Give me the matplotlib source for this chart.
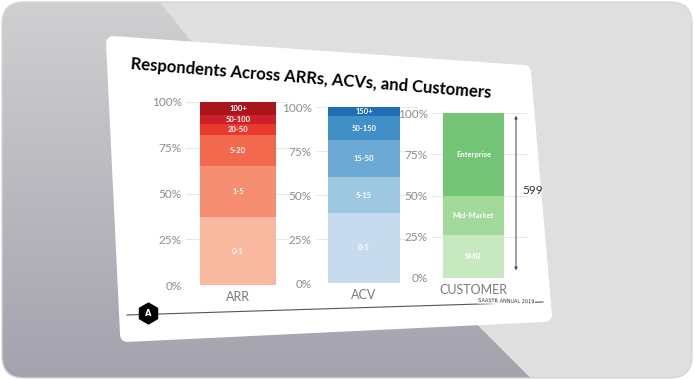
import matplotlib
matplotlib.use("Agg")
import matplotlib.pyplot as plt
import numpy as np
from matplotlib.patches import Polygon, FancyBboxPatch
from matplotlib.path import Path

W, H = 694, 380

# --- data -------------------------------------------------------------
title = "Respondents Across ARRs, ACVs, and Customers"
yticks = [0, 25, 50, 75, 100]
ytick_labels = ["0%", "25%", "50%", "75%", "100%"]

arr_labels = ["0-1", "1-5", "5-20", "20-50", "50-100", "100+"]
arr_values = [37, 28, 17, 6, 5, 7]
arr_colors = ["#f8b9a0", "#f68f72", "#f3694d", "#e93a30", "#cd2028", "#a9151d"]

acv_labels = ["0-5", "5-15", "15-50", "50-150", "150+"]
acv_values = [40, 20, 21, 14, 5]
acv_colors = ["#c6dcee", "#9ec7e1", "#6caad5", "#4090c7", "#1f6eb6"]

cust_labels = ["SMB", "Mid-Market", "Enterprise"]
cust_values = [26, 24, 50]
cust_colors = ["#c7e9c0", "#a1d99b", "#74c476"]

total_customers = 599
groups = ["ARR", "ACV", "CUSTOMER"]

# layout of each panel in pixels: axes left/right, bar left/right, top, bottom
panels = [
    (186, 289, 200, 276, 102, 285),
    (316, 418, 328, 400, 107, 283),
    (432, 528, 443, 504, 113, 278),
]

fig = plt.figure(figsize=(W / 100, H / 100), dpi=100)
fig.patch.set_facecolor("white")

# --- background (pixel coords) ----------------------------------------
bg = fig.add_axes([0, 0, 1, 1])
bg.set_xlim(0, W)
bg.set_ylim(H, 0)
bg.axis("off")

frame = FancyBboxPatch((2, 2), W - 4, H - 4, boxstyle="round,pad=0,rounding_size=22",
                       fc="none", ec="#d6d6d6", lw=1, zorder=2)
bg.add_patch(frame)

# light backdrop with a darker shadow falling to the lower left of the card
yy, xx = np.mgrid[0:H, 0:W]
light = np.array([0.875, 0.875, 0.875])
shade_top = np.array([0.815, 0.815, 0.82])
shade_bot = np.array([0.64, 0.635, 0.68])
shadow_pts = [(158, 0), (200, 52), (470, 318), (532, 380), (0, 380), (0, 0)]
inside = Path(shadow_pts).contains_points(np.c_[xx.ravel() + 0.5, yy.ravel() + 0.5]).reshape(H, W)
t = (yy / H)[..., None]
shade = shade_top * (1 - t) + shade_bot * t
img = np.where(inside[..., None], shade, light)
im = bg.imshow(img, extent=(0, W, H, 0), aspect="auto", zorder=1, interpolation="bilinear")
im.set_clip_path(frame)

card = Polygon([(113, 43), (524, 72), (545, 315), (127, 335)], closed=True,
               fc="white", ec="white", lw=10, joinstyle="round", zorder=3)
bg.add_patch(card)

bg.text(131, 64, title, fontsize=12, fontweight="bold", family="Lato",
        rotation=-4.6, rotation_mode="anchor", ha="left", va="center", zorder=5)

# footer
bg.plot([127, 543], [315, 302], color="#555555", lw=0.8, zorder=4)
bg.plot([148], [313], marker="h", ms=15, color="black", zorder=5)
bg.text(148, 313.5, "A", color="white", fontsize=6, fontweight="bold",
        ha="center", va="center", zorder=6)
bg.text(506, 301, "SAASTR ANNUAL 2019", fontsize=3.6, family="DejaVu Sans",
        ha="center", va="center", color="#333333", rotation=-1.5, zorder=6,
        bbox=dict(fc="white", ec="none", pad=0.5))

# --- charts -------------------------------------------------------------
series = [
    (arr_labels, arr_values, arr_colors),
    (acv_labels, acv_values, acv_colors),
    (cust_labels, cust_values, cust_colors),
]

axes = []
for (l, r, bl, br, top, bot), (labels, values, colors), name in zip(panels, series, groups):
    ax = fig.add_axes([l / W, 1 - bot / H, (r - l) / W, (bot - top) / H], zorder=5)
    ax.patch.set_alpha(0)
    scale = (br - bl) / 0.8
    center = (bl + br) / 2
    ax.set_xlim((l - center) / scale, (r - center) / scale)
    ax.set_ylim(0, 100)
    bottom = 0
    for lab, val, col in zip(labels, values, colors):
        bars = ax.bar([0], [val], width=0.8, bottom=bottom, color=col, zorder=3)
        ax.bar_label(bars, labels=[lab], label_type="center", color="white",
                     fontsize=5.5, fontweight="bold", family="Lato")
        bottom += val
    ax.set_yticks(yticks)
    ax.set_yticklabels(ytick_labels)
    ax.set_xticks([0])
    ax.set_xticklabels([name])
    ax.tick_params(axis="y", length=0, pad=3, labelsize=8.5, labelcolor="#8c8c8c")
    ax.tick_params(axis="x", length=0, pad=4, labelsize=9, labelcolor="#7a7a7a")
    for lab in ax.get_xticklabels() + ax.get_yticklabels():
        lab.set_family("Lato")
    ax.grid(axis="y", color="#e8e8e8", lw=0.8, zorder=0)
    for s in ax.spines.values():
        s.set_visible(False)
    axes.append((ax, scale, center))

# total arrow on the customer panel
ax, scale, center = axes[2]
xa = (516 - center) / scale
ax.annotate("", xy=(xa, 100), xytext=(xa, 3),
            arrowprops=dict(arrowstyle="<|-|>", color="#34426b", lw=0.7,
                            mutation_scale=4), zorder=6)
ax.text(xa + 6 / scale, 53, str(total_customers), fontsize=8.5, family="Lato",
        color="#333333", ha="left", va="center", clip_on=False)

fig.savefig("out.png", dpi=100, facecolor="white")
